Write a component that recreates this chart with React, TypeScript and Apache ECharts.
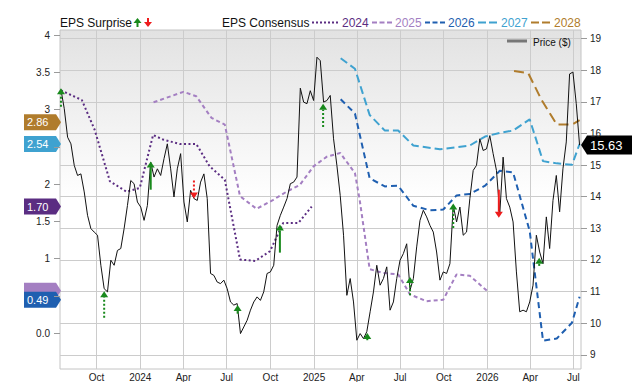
import React, { useEffect, useRef } from 'react';
import * as echarts from 'echarts';

const FONT = '"Liberation Sans", Arial, Helvetica, sans-serif';

// ---- axes ----
const xMin = '2023-07-16';
const xMax = '2026-07-17';
const quarterTicks = ['2023-10-01', '2024-01-01', '2024-04-01', '2024-07-01', '2024-10-01', '2025-01-01', '2025-04-01', '2025-07-01', '2025-10-01', '2026-01-01', '2026-04-01', '2026-07-01'];
const quarterLabels = ['Oct', '2024', 'Apr', 'Jul', 'Oct', '2025', 'Apr', 'Jul', 'Oct', '2026', 'Apr', 'Jul'];
const epsMin = -0.48;
const epsMax = 4.07;
const epsTicks = [0, 0.5, 1, 1.5, 2, 2.5, 3, 3.5, 4];
// 0.5 and 2.5 labels sit behind the value badges in the reference
const epsTickLabels = [0, 1, 1.5, 2, 3, 3.5, 4];
const priceMin = 8.55;
const priceMax = 19.27;
const priceTicks = [9, 10, 11, 12, 13, 14, 15, 16, 17, 18, 19];

// ---- price (weekly closes) ----
const priceStart = '2023-07-18';
const priceStepDays = 7;
const priceValues = [
  17.39, 16.78, 15.88, 15.67, 14.99, 14.67, 14.72, 14.15, 13.41, 12.99,
  12.88, 12.78, 11.83, 11.09, 10.99, 11.99, 11.83, 12.30, 12.36, 12.99,
  13.72, 14.51, 14.41, 13.83, 13.67, 13.25, 13.72, 15.09, 14.62, 14.88,
  14.67, 15.20, 15.67, 14.88, 13.99, 14.88, 15.36, 13.83, 13.20, 14.20,
  13.94, 13.88, 14.46, 14.72, 13.94, 11.57, 11.51, 11.30, 11.25, 11.36,
  11.09, 10.67, 10.57, 10.62, 9.67, 9.88, 10.09, 10.41, 10.67, 10.83,
  10.72, 10.99, 11.57, 11.62, 11.83, 13.09, 13.41, 13.67, 13.94, 14.41,
  14.46, 14.62, 17.43, 16.99, 16.94, 17.35, 17.04, 18.41,
  18.30, 16.99, 17.04, 17.20, 15.83, 14.99, 14.04, 12.78, 10.88, 11.41,
  10.67, 9.46, 9.67, 9.51, 9.73, 10.36, 10.99, 11.83, 11.20, 11.41,
  11.78, 10.41, 10.67, 11.41, 11.99, 12.20, 12.51, 11.04, 11.41, 12.41,
  13.25, 13.57, 13.36, 13.09, 12.88, 12.25, 11.36, 11.62, 11.57, 11.88,
  13.72, 13.20, 13.67, 12.78, 12.88, 13.94, 14.83, 14.99, 15.83, 15.46,
  15.51, 15.93, 15.36, 14.83, 13.46, 15.25, 13.94, 13.67, 13.20, 11.62,
  10.36, 10.41, 10.36, 10.67, 11.20, 12.78, 12.25, 11.88, 13.36, 12.36,
  13.88, 14.67, 13.52, 14.88, 15.73, 17.88, 17.94, 16.94, 15.63,
];
const lastPrice = 15.63;

// ---- EPS consensus ----
const eps2024Dates = ['2023-07-18', '2023-08-31', '2023-09-27', '2023-10-29', '2023-12-03', '2023-12-31', '2024-01-28', '2024-02-18', '2024-03-24', '2024-04-28', '2024-05-26', '2024-06-27', '2024-07-29', '2024-08-30', '2024-09-30', '2024-10-28', '2024-11-29', '2024-12-27'];
const eps2024Values = [3.26, 3.13, 2.73, 2.04, 1.90, 1.95, 2.66, 2.60, 2.54, 2.54, 2.24, 2.06, 0.99, 0.97, 1.10, 1.48, 1.48, 1.70];

const eps2025Dates = ['2024-01-29', '2024-04-01', '2024-04-28', '2024-05-30', '2024-06-27', '2024-07-29', '2024-09-02', '2024-10-07', '2024-11-04', '2024-12-02', '2024-12-31', '2025-01-28', '2025-02-25', '2025-03-28', '2025-04-07', '2025-04-28', '2025-05-26', '2025-06-27', '2025-07-22', '2025-08-26', '2025-09-30', '2025-10-28', '2025-11-25', '2025-12-31'];
const eps2025Values = [3.10, 3.24, 3.18, 2.89, 2.80, 1.84, 1.67, 1.79, 1.90, 1.99, 2.24, 2.37, 2.42, 2.15, 1.79, 0.86, 0.81, 0.79, 0.52, 0.43, 0.45, 0.79, 0.77, 0.57];

const eps2026Dates = ['2025-02-26', '2025-03-28', '2025-04-28', '2025-05-30', '2025-06-27', '2025-07-29', '2025-09-02', '2025-09-30', '2025-10-28', '2025-11-25', '2025-12-27', '2026-01-27', '2026-02-24', '2026-03-31', '2026-04-28', '2026-05-27', '2026-06-28', '2026-07-14'];
const eps2026Values = [3.14, 2.95, 2.08, 1.97, 1.98, 1.71, 1.65, 1.66, 1.85, 1.87, 1.98, 2.18, 2.16, 1.37, -0.10, -0.07, 0.14, 0.49];

const eps2027Dates = ['2025-02-26', '2025-03-28', '2025-04-28', '2025-05-30', '2025-06-27', '2025-07-29', '2025-09-23', '2025-11-25', '2025-12-27', '2026-01-27', '2026-02-24', '2026-03-31', '2026-04-28', '2026-05-27', '2026-06-28', '2026-07-14'];
const eps2027Values = [3.69, 3.55, 2.93, 2.72, 2.72, 2.52, 2.47, 2.52, 2.64, 2.69, 2.72, 2.87, 2.31, 2.28, 2.26, 2.54];

const eps2028Dates = ['2026-02-26', '2026-03-28', '2026-04-25', '2026-05-27', '2026-06-28', '2026-07-14'];
const eps2028Values = [3.52, 3.49, 3.13, 2.80, 2.80, 2.86];

// ---- EPS surprises (drawn on price scale) ----
const surpriseDates = ['2023-07-18', '2023-10-17', '2024-01-23', '2024-04-23', '2024-07-24', '2024-10-21', '2025-01-20', '2025-04-23', '2025-07-22', '2025-10-21', '2026-01-25', '2026-04-20'];
const surpriseFrom = [16.84, 10.17, 14.22, 14.51, 10.30, 12.23, 16.20, 9.46, 10.88, 13.01, 14.22, 11.81];
const surpriseTo = [17.43, 11.01, 15.11, 13.94, 10.57, 13.12, 16.94, 9.69, 11.46, 13.78, 13.33, 12.07];
const surpriseSolid = [false, false, true, false, true, true, false, false, false, false, true, false];

const C2024 = '#5b2d82';
const C2025 = '#a47fc2';
const C2026 = '#1f5fb0';
const C2027 = '#3fa2d0';
const C2028 = '#b07c2c';
const GREEN = '#18891c';
const RED = '#ee1c1c';

const t = (s: string) => new Date(s + 'T00:00:00').getTime();
const pairs = (d: string[], v: number[]) => d.map((s, i) => [t(s), v[i]]);

export default function App() {
  const ref = useRef<HTMLDivElement>(null);
  useEffect(() => {
    if (!ref.current) return;
    const chart = echarts.init(ref.current, null, { renderer: 'svg' });
    const tickTimes = quarterTicks.map(t);
    const priceStartT = t(priceStart);
    const priceData = priceValues.map((v, i) => [priceStartT + i * priceStepDays * 86400000, v]);
    const surpriseData = surpriseDates.map((d, i) => [t(d), surpriseFrom[i], surpriseTo[i], surpriseSolid[i] ? 1 : 0]);

    const epsLine = (name: string, data: any[], color: string, dash: number[]) => ({
      name,
      type: 'line',
      xAxisIndex: 0,
      yAxisIndex: 0,
      data,
      showSymbol: false,
      symbol: 'none',
      z: 3,
      lineStyle: { color, width: 2, type: dash },
    });

    const option: any = {
      animation: false,
      grid: {
        left: 60, right: 59, top: 30, bottom: 12,
        show: true,
        borderColor: '#c4c4c4',
        borderWidth: 1,
        backgroundColor: new echarts.graphic.LinearGradient(0, 0, 0, 1, [
          { offset: 0, color: '#e2e2e2' },
          { offset: 0.5, color: '#ffffff' },
          { offset: 1, color: '#ffffff' },
        ]),
      },
      xAxis: {
        type: 'value',
        min: t(xMin),
        max: t(xMax),
        axisLine: { show: false },
        axisTick: { show: false, customValues: tickTimes },
        axisLabel: {
          customValues: tickTimes,
          formatter: (v: number) => {
            const i = tickTimes.indexOf(v);
            return i >= 0 ? quarterLabels[i] : '';
          },
          fontSize: 10, color: '#222', fontFamily: FONT, margin: 3,
        },
        splitLine: { show: true, lineStyle: { color: '#cccccc', width: 1 } },
      },
      yAxis: [
        {
          type: 'value', position: 'left', min: epsMin, max: epsMax,
          axisLine: { show: false },
          axisTick: { show: true, length: 6, lineStyle: { color: '#9a9a9a' }, customValues: epsTicks },
          axisLabel: {
            customValues: epsTickLabels,
            formatter: (v: number) => (v === 0 ? '0.0' : String(v)),
            fontSize: 10, color: '#222', fontFamily: FONT, margin: 10,
          },
          splitLine: { show: false },
        },
        {
          type: 'value', position: 'right', min: priceMin, max: priceMax,
          axisLine: { show: false },
          axisTick: { show: true, length: 6, lineStyle: { color: '#9a9a9a' }, customValues: priceTicks },
          axisLabel: { customValues: priceTicks, fontSize: 10, color: '#222', fontFamily: FONT, margin: 9 },
          splitLine: { show: true, lineStyle: { color: '#cccccc', width: 1 } },
        },
      ],
      series: [
        epsLine('2024', pairs(eps2024Dates, eps2024Values), C2024, [2, 2.5]),
        epsLine('2025', pairs(eps2025Dates, eps2025Values), C2025, [4, 3]),
        epsLine('2026', pairs(eps2026Dates, eps2026Values), C2026, [6, 4]),
        epsLine('2027', pairs(eps2027Dates, eps2027Values), C2027, [8, 4]),
        epsLine('2028', pairs(eps2028Dates, eps2028Values), C2028, [10, 5]),
        {
          name: 'Price ($)', type: 'line', xAxisIndex: 0, yAxisIndex: 1,
          data: priceData, showSymbol: false, symbol: 'none', z: 4,
          lineStyle: { color: '#111', width: 1 },
        },
        {
          name: 'EPS Surprise', type: 'custom', xAxisIndex: 0, yAxisIndex: 1,
          data: surpriseData, z: 6, clip: false,
          encode: { x: 0, y: [1, 2] },
          renderItem: (params: any, api: any) => {
            const x = api.value(0);
            const from = api.value(1);
            const to = api.value(2);
            const solid = api.value(3) === 1;
            const p1 = api.coord([x, from]);
            const p2 = api.coord([x, to]);
            const up = to > from;
            const color = up ? GREEN : RED;
            const headH = 6;
            const headW = 4;
            const baseY = p2[1] + (up ? headH : -headH);
            return {
              type: 'group',
              children: [
                {
                  type: 'line',
                  shape: { x1: p1[0], y1: p1[1], x2: p2[0], y2: baseY },
                  style: { stroke: color, lineWidth: 2, lineDash: solid ? null : [2, 2] },
                },
                {
                  type: 'polygon',
                  shape: { points: [[p2[0], p2[1]], [p2[0] - headW, baseY], [p2[0] + headW, baseY]] },
                  style: { fill: color },
                },
              ],
            };
          },
        },
      ],
    };
    chart.setOption(option);

    // ---- annotations: legend + value badges ----
    const txt = (text: string, x: number, y: number, fill: string, size = 12, align = 'left') => ({
      type: 'text', z: 100,
      style: { text, x, y, fill, font: `${size}px ${FONT}`, verticalAlign: 'middle', align },
    });
    const legLine = (x1: number, x2: number, y: number, color: string, dash: number[], w = 2) => ({
      type: 'line', z: 100,
      shape: { x1, y1: y, x2, y2: y },
      style: { stroke: color, lineWidth: w, lineDash: dash },
    });
    const arrowIcon = (x: number, yTop: number, yBot: number, up: boolean, color: string) => ({
      type: 'group', z: 100,
      children: [
        {
          type: 'line',
          shape: up ? { x1: x, y1: yBot, x2: x, y2: yTop + 5 } : { x1: x, y1: yTop, x2: x, y2: yBot - 5 },
          style: { stroke: color, lineWidth: 2 },
        },
        {
          type: 'polygon',
          shape: {
            points: up
              ? [[x, yTop], [x - 4, yTop + 5], [x + 4, yTop + 5]]
              : [[x, yBot], [x - 4, yBot - 5], [x + 4, yBot - 5]],
          },
          style: { fill: color },
        },
      ],
    });

    const yEps = (v: number) => chart.convertToPixel({ yAxisIndex: 0 } as any, v) as number;
    const yPrice = (v: number) => chart.convertToPixel({ yAxisIndex: 1 } as any, v) as number;

    const leftBadge = (value: number, color: string, dy: number, showText: boolean) => {
      const y = yEps(value) + dy;
      const children: any[] = [
        {
          type: 'polygon',
          shape: { points: [[24, y - 8], [56, y - 8], [61, y], [56, y + 8], [24, y + 8]] },
          style: { fill: color },
        },
      ];
      if (showText) {
        children.push({
          type: 'text',
          style: { text: value.toFixed(2), x: 27, y, fill: '#fff', font: `11px ${FONT}`, verticalAlign: 'middle', align: 'left' },
        });
      }
      return { type: 'group', z: 100, children };
    };

    const py = yPrice(lastPrice);
    const graphic: any[] = [
      txt('EPS Surprise', 60, 23, '#111'),
      arrowIcon(137.5, 18, 27, true, GREEN),
      arrowIcon(148, 18, 27, false, RED),
      txt('EPS Consensus', 222, 23, '#111'),
      legLine(312, 338, 22.5, C2024, [2, 2]),
      txt('2024', 342, 23, C2024),
      legLine(372, 392, 22.5, C2025, [5, 2.5]),
      txt('2025', 395, 23, C2025),
      legLine(425, 445, 22.5, C2026, [5, 2.5]),
      txt('2026', 448, 23, C2026),
      legLine(478, 497, 22.5, C2027, [8, 3]),
      txt('2027', 501, 23, C2027),
      legLine(531, 551, 22.5, C2028, [8, 3]),
      txt('2028', 554, 23, C2028),
      legLine(507, 527, 41, '#777', [], 3),
      txt('Price ($)', 533, 42, '#111', 10),
      leftBadge(eps2025Values[eps2025Values.length - 1], C2025, 0, false),
      leftBadge(eps2026Values[eps2026Values.length - 1], C2026, 3, true),
      leftBadge(eps2024Values[eps2024Values.length - 1], C2024, 0, true),
      leftBadge(eps2027Values[eps2027Values.length - 1], C2027, 0, true),
      leftBadge(eps2028Values[eps2028Values.length - 1], C2028, 2, true),
      {
        type: 'group', z: 100,
        children: [
          {
            type: 'polygon',
            shape: { points: [[581, py], [587, py - 9.5], [632, py - 9.5], [632, py + 9.5], [587, py + 9.5]] },
            style: { fill: '#000' },
          },
          {
            type: 'text',
            style: { text: lastPrice.toFixed(2), x: 590, y: py, fill: '#fff', font: `13px ${FONT}`, verticalAlign: 'middle', align: 'left' },
          },
        ],
      },
    ];
    chart.setOption({ graphic });

    return () => chart.dispose();
  }, []);
  return <div ref={ref} style={{ position: 'absolute', left: 0, top: 0, width: 640, height: 382 }} />;
}
